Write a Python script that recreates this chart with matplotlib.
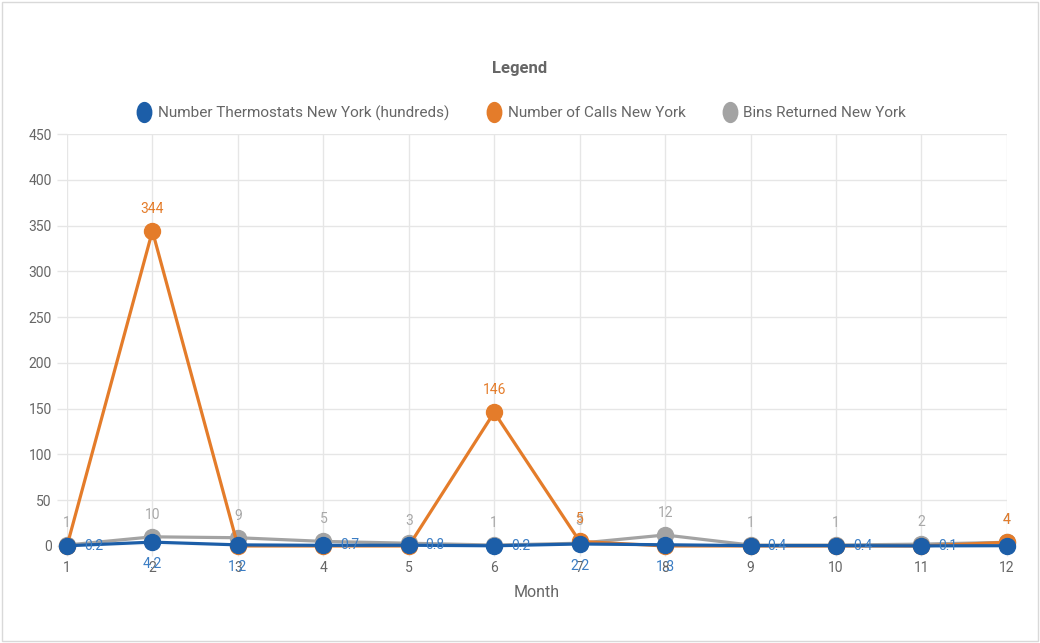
import matplotlib.pyplot as plt
from matplotlib.markers import MarkerStyle
from matplotlib.patches import Rectangle
from matplotlib.transforms import Affine2D

plt.rcParams['font.family'] = ['Roboto', 'DejaVu Sans']

MONTHS = [1, 2, 3, 4, 5, 6, 7, 8, 9, 10, 11, 12]
THERMOSTATS = [0.2, 4.2, 1.2, 0.7, 0.8, 0.2, 2.2, 1.3, 0.4, 0.4, 0.1, 0.3]
CALLS = [0, 344, 0, 0, 0, 146, 5, 0, 0, 0, 0, 4]
BINS = [1, 10, 9, 5, 3, 1, 3, 12, 1, 1, 2, 4]
SERIES_NAMES = ['Number Thermostats New York (hundreds)',
                'Number of Calls New York',
                'Bins Returned New York']
Y_TICKS = [0, 50, 100, 150, 200, 250, 300, 350, 400, 450]

# where each thermostat label sits relative to its point
BLUE_LABEL_SIDE = ['right', 'below', 'below', 'right', 'right', 'right',
                   'below', 'below', 'right', 'right', 'right', 'right']

BLUE = '#1c5ea8'
ORANGE = '#e47c2a'
GRAY = '#a3a3a3'
TEXT = '#666666'
GRID = '#e6e6e6'

fig = plt.figure(figsize=(10.4, 6.43), dpi=100)
ax = fig.add_axes([0.0644, 0.1509, 0.9038, 0.6407])

line_kw = dict(linewidth=2.3, marker='o', markersize=11.5, clip_on=False)
ax.plot(MONTHS, BINS, color=GRAY, zorder=3, **line_kw)
ax.plot(MONTHS, CALLS, color=ORANGE, zorder=4, **line_kw)
ax.plot(MONTHS, THERMOSTATS, color=BLUE, zorder=5, **line_kw)

# data labels
for m, v in zip(MONTHS, BINS):
    ax.annotate(f'{v:g}', (m, v), xytext=(0, 16), textcoords='offset points',
                ha='center', va='center', fontsize=10, color='#a8a8a8', zorder=2)
for m, v in zip(MONTHS, CALLS):
    if v > 0:
        ax.annotate(f'{v:g}', (m, v), xytext=(0, 16), textcoords='offset points',
                    ha='center', va='center', fontsize=10, color=ORANGE, zorder=6)
for m, v, side in zip(MONTHS, THERMOSTATS, BLUE_LABEL_SIDE):
    # a right-hand label on the last month falls outside the chart area
    if side == 'right' and m == MONTHS[-1]:
        continue
    off = (19, 0) if side == 'right' else (0, -16)
    ax.annotate(f'{v:g}', (m, v), xytext=off, textcoords='offset points',
                ha='center', va='center', fontsize=10, color='#3b7dc4',
                zorder=6, annotation_clip=False)

ax.set_xlim(1, 12)
ax.set_ylim(0, 450)
ax.set_xticks(MONTHS)
ax.set_yticks(Y_TICKS)
ax.grid(True, color=GRID, linewidth=1)
ax.set_axisbelow(True)
for s in ax.spines.values():
    s.set_visible(False)
ax.tick_params(axis='both', colors=GRID, labelcolor=TEXT, labelsize=10,
               length=7, width=1, pad=4)
ax.set_xlabel('Month', fontsize=11.5, color=TEXT, labelpad=7)

fig.text(0.5, 1 - 68 / 643, 'Legend', ha='center', va='center',
         fontsize=12, fontweight='bold', color=TEXT)
oval = MarkerStyle('o', transform=Affine2D().scale(0.8, 1.1))
leg_handles = [plt.Line2D([], [], linestyle='none', marker=oval, markersize=13,
                          color=c) for c in (BLUE, ORANGE, GRAY)]
fig.legend(leg_handles, SERIES_NAMES, loc='center',
           bbox_to_anchor=(0.5, 1 - 113 / 643), ncol=3, frameon=False,
           fontsize=11, labelcolor=TEXT, handletextpad=0.2, columnspacing=2.2,
           handlelength=1.4)

fig.patches.append(Rectangle((0.002, 0.003), 0.996, 0.994, transform=fig.transFigure,
                             fill=False, edgecolor='#d9d9d9', linewidth=1))

fig.savefig('out.png', dpi=100)
